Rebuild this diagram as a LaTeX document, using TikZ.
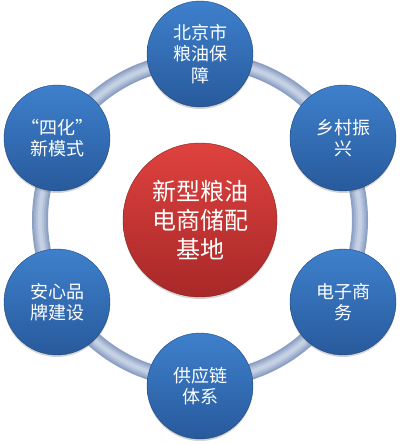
\documentclass[tikz,border=0pt]{standalone}
\usepackage{fontspec}
\newfontfamily\cjk{Noto Sans CJK SC}
\usetikzlibrary{shadows}
\definecolor{ringout}{RGB}{140,160,196}
\definecolor{ringin}{RGB}{196,208,228}
\definecolor{bluetop}{RGB}{62,128,204}
\definecolor{bluebot}{RGB}{40,90,156}
\definecolor{redtop}{RGB}{222,66,62}
\definecolor{redbot}{RGB}{168,40,40}
\tikzset{
  bluecirc/.style={circle, minimum size=106pt, inner sep=0pt, top color=bluetop, bottom color=bluebot,
    draw=bluebot!80!black, line width=0.4pt, text=white, align=center, font=\cjk\fontsize{18}{21.5}\selectfont,
    drop shadow={shadow xshift=0pt, shadow yshift=-2pt, opacity=0.35}},
  redcirc/.style={circle, minimum size=154pt, inner sep=0pt, top color=redtop, bottom color=redbot,
    draw=redbot!80!black, line width=0.4pt, text=white, align=center, font=\cjk\fontsize{24}{29}\selectfont,
    drop shadow={shadow xshift=0pt, shadow yshift=-2pt, opacity=0.35}}
}
\begin{document}
\begin{tikzpicture}[x=1pt,y=-1pt]
\useasboundingbox (0,0) rectangle (400,444);
\coordinate (c) at (200,220);
\draw[ringout, line width=16pt] (c) circle[radius=160];
\draw[ringout!65!ringin, line width=12pt] (c) circle[radius=160];
\draw[ringout!30!ringin, line width=8pt] (c) circle[radius=160];
\draw[ringin, line width=4pt] (c) circle[radius=160];
\node[redcirc] (center) at (c) {新型粮油\\电商储配\\基地};
\node[bluecirc] (n1) at (200,54) {北京市\\粮油保\\障};
\node[bluecirc] (n2) at (343,138) {乡村振\\兴};
\node[bluecirc] (n3) at (343,302) {电子商\\务};
\node[bluecirc] (n4) at (200,386) {供应链\\体系};
\node[bluecirc] (n5) at (57,302) {安心品\\牌建设};
\node[bluecirc] (n6) at (57,138) {“四化”\\新模式};
\end{tikzpicture}
\end{document}
